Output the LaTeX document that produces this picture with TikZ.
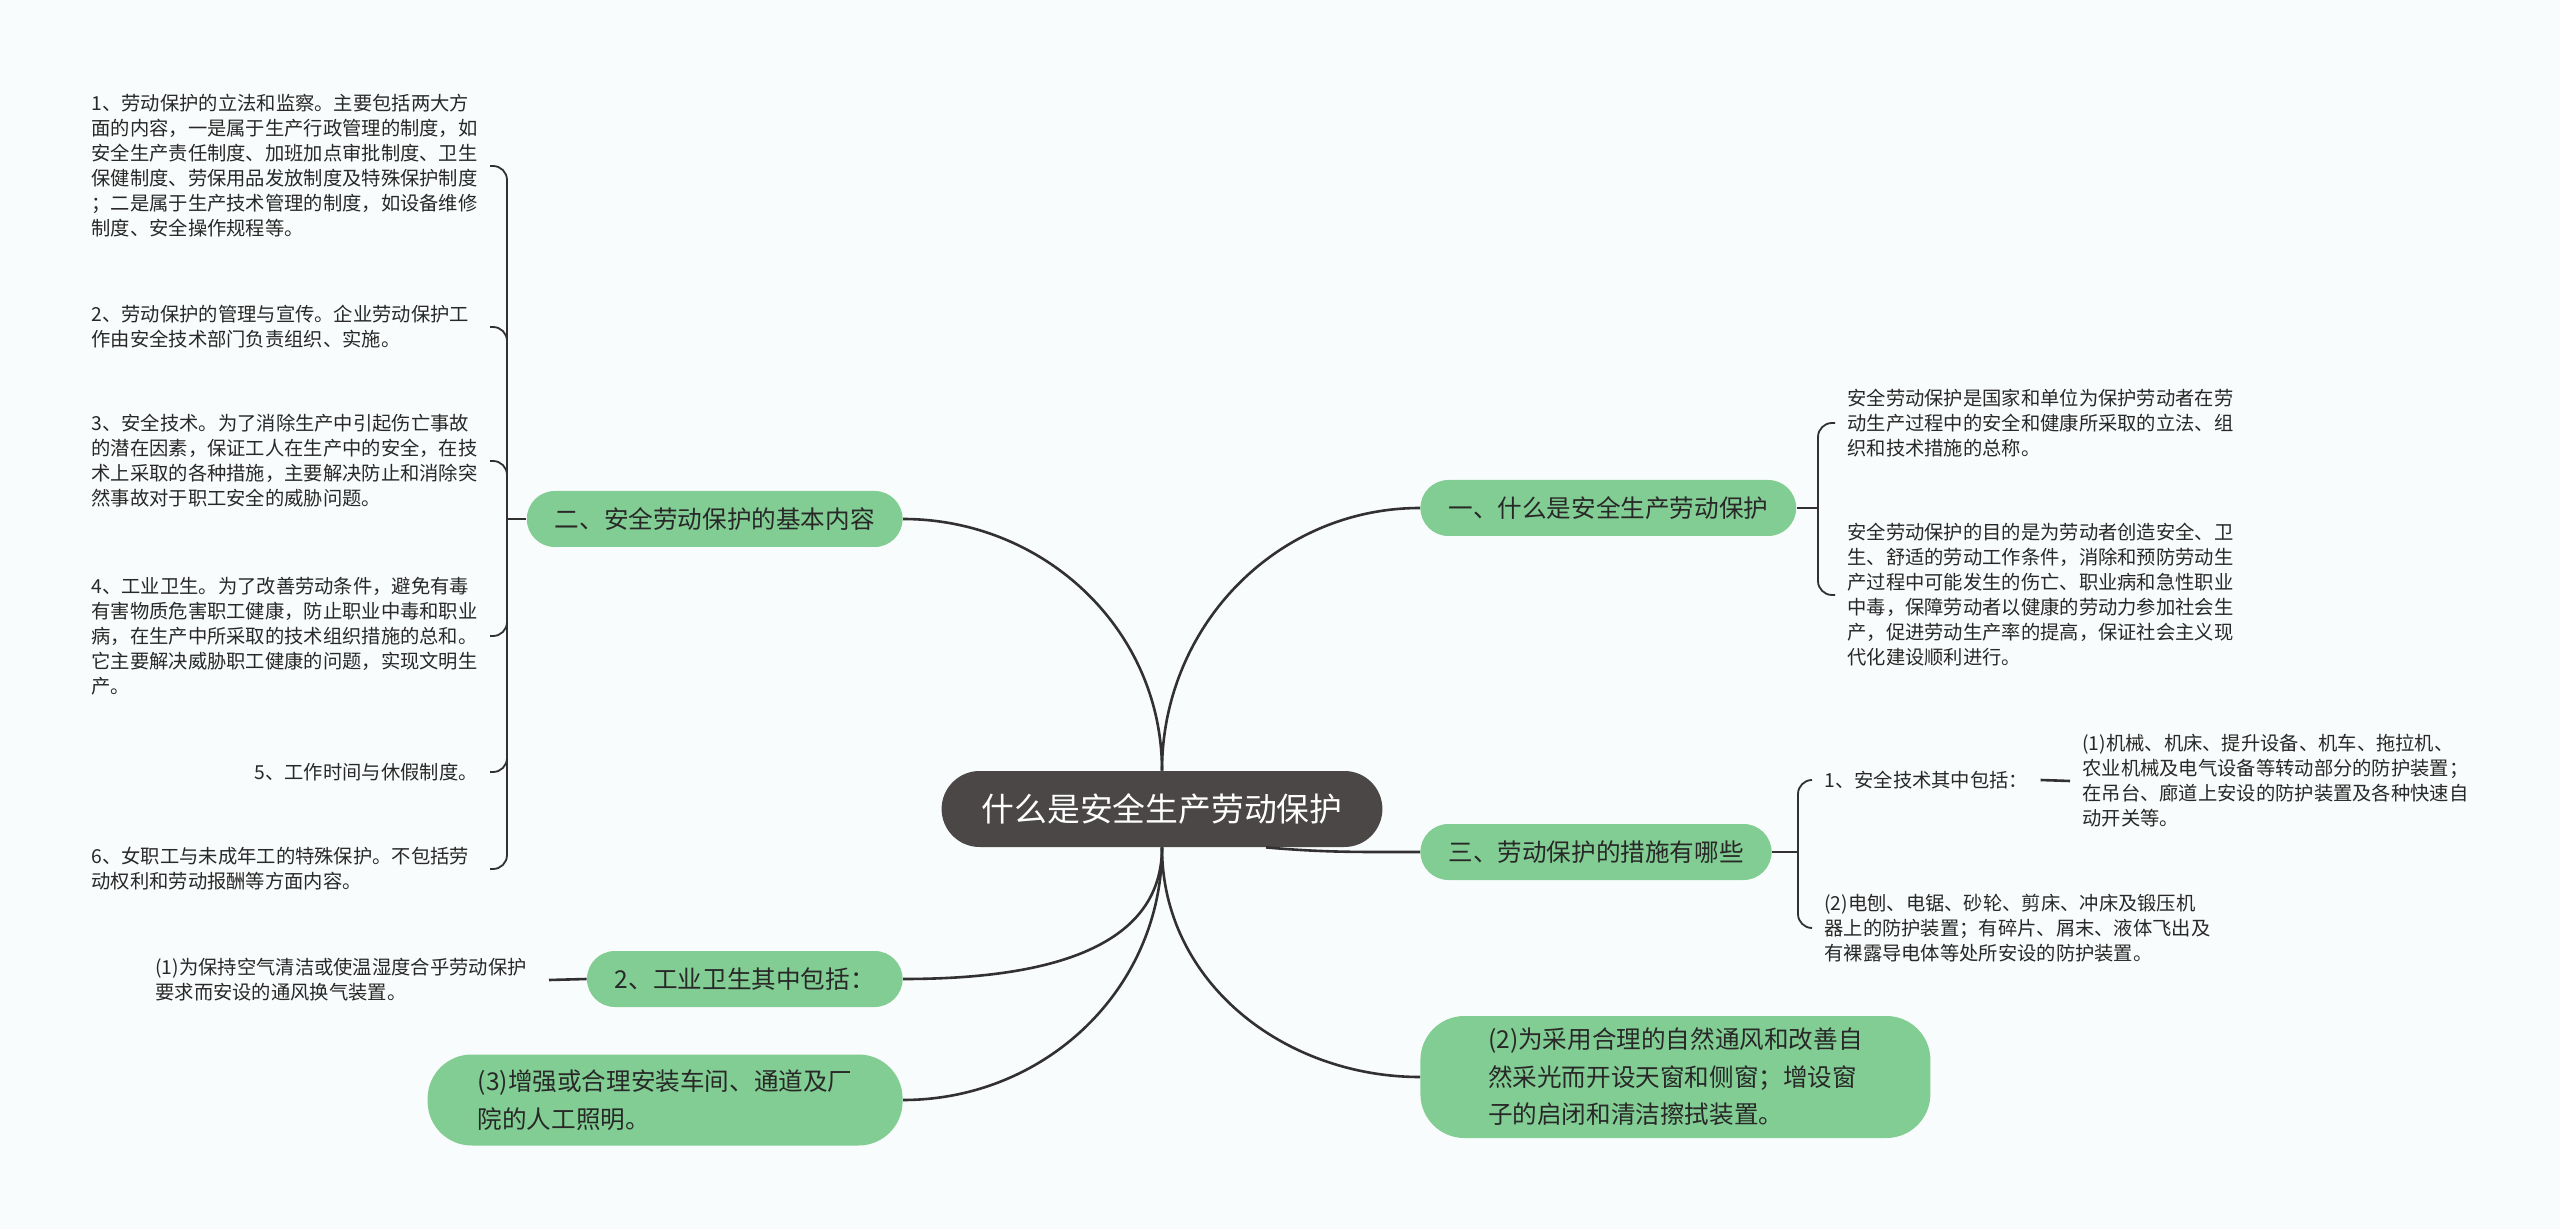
\documentclass[tikz,border=0pt]{standalone}
\usepackage{fontspec}
\setmainfont{Noto Sans CJK SC}
\usepackage{tikz}
\definecolor{rootgray}{RGB}{75,71,71}
\definecolor{topicgreen}{RGB}{130,205,147}
\definecolor{inkgray}{RGB}{40,40,40}
\definecolor{linegray}{RGB}{50,48,48}
\definecolor{paper}{RGB}{249,252,252}

\begin{document}
\begin{tikzpicture}[x=0.5pt, y=-0.5pt,
	root/.style={fill=rootgray, text=white, rounded corners=19pt, minimum height=38pt, inner xsep=20pt, font=\fontsize{16.4}{20}\selectfont},
	topic/.style={fill=topicgreen, text=inkgray, rounded corners=14pt, minimum height=28pt, inner xsep=14pt, font=\fontsize{12.3}{18.7}\selectfont},
	bigtopic/.style={topic, rounded corners=22pt, align=left},
	note/.style={text=inkgray, align=left, inner xsep=6pt, inner ysep=0pt, font=\fontsize{9.65}{12.5}\selectfont},
	widenote/.style={note, text width=193pt},
	link/.style={draw=linegray, line width=1.3pt},
	brace/.style={draw=linegray, line width=0.9pt, rounded corners=7pt}]
			\path[use as bounding box, fill=paper] (0,0) rectangle (2560,1229);
			\node[root] (root) at (1162,809) {什么是安全生产劳动保护};
			\node[topic, anchor=west] (what) at (1420,508) {一、什么是安全生产劳动保护};
			\node[topic, anchor=east] (basic) at (903,519) {二、安全劳动保护的基本内容};
			\node[topic, anchor=west] (measure) at (1420,852) {三、劳动保护的措施有哪些};
			\node[topic, anchor=east] (hygiene) at (903,979) {2、工业卫生其中包括：};
			\node[bigtopic, anchor=east, minimum width=237.5pt, minimum height=45.5pt] (light) at (903,1100) {(3)增强或合理安装车间、通道及厂\\院的人工照明。};
			\node[bigtopic, anchor=west, minimum width=255pt, minimum height=61pt] (window) at (1420,1077) {(2)为采用合理的自然通风和改善自\\然采光而开设天窗和侧窗；增设窗\\子的启闭和清洁擦拭装置。};
			\draw[link] (root.north) to[out=90, in=180] (what.west);
			\draw[link] (root.north) to[out=90, in=0] (basic.east);
			\draw[link] ([xshift=52pt]root.south) to[out=-5, in=180] (measure.west);
			\draw[link] (root.south) to[out=-90, in=0] (hygiene.east);
			\draw[link] (root.south) to[out=-90, in=0] (light.east);
			\draw[link] (root.south) to[out=-90, in=180] (window.west);
			\node[widenote, anchor=east] (b1) at (490,166) {1、劳动保护的立法和监察。主要包括两大方\\面的内容，一是属于生产行政管理的制度，如\\安全生产责任制度、加班加点审批制度、卫生\\保健制度、劳保用品发放制度及特殊保护制度\\；二是属于生产技术管理的制度，如设备维修\\制度、安全操作规程等。};
			\node[widenote, anchor=east] (b2) at (490,327) {2、劳动保护的管理与宣传。企业劳动保护工\\作由安全技术部门负责组织、实施。};
			\node[widenote, anchor=east] (b3) at (490,461) {3、安全技术。为了消除生产中引起伤亡事故\\的潜在因素，保证工人在生产中的安全，在技\\术上采取的各种措施，主要解决防止和消除突\\然事故对于职工安全的威胁问题。};
			\node[widenote, anchor=east] (b4) at (490,636) {4、工业卫生。为了改善劳动条件，避免有毒\\有害物质危害职工健康，防止职业中毒和职业\\病，在生产中所采取的技术组织措施的总和。\\它主要解决威胁职工健康的问题，实现文明生\\产。};
			\node[note, anchor=east] (b5) at (490,772) {5、工作时间与休假制度。};
			\node[widenote, anchor=east] (b6) at (490,869) {6、女职工与未成年工的特殊保护。不包括劳\\动权利和劳动报酬等方面内容。};
			\coordinate (bl) at (507,519);
			\draw[link] (basic.west) -- (bl);
			\foreach \n in {b1,b2,b3,b4,b5,b6} \draw[brace] (bl) |- (\n.east);
			\node[note, anchor=east, inner xsep=11pt] (h1) at (549,980) {(1)为保持空气清洁或使温湿度合乎劳动保护\\要求而安设的通风换气装置。};
			\draw[link] (h1.east) -- (hygiene.west);
			\node[note, anchor=west] (r1) at (1835,423) {安全劳动保护是国家和单位为保护劳动者在劳\\动生产过程中的安全和健康所采取的立法、组\\织和技术措施的总称。};
			\node[note, anchor=west] (r2) at (1835,595) {安全劳动保护的目的是为劳动者创造安全、卫\\生、舒适的劳动工作条件，消除和预防劳动生\\产过程中可能发生的伤亡、职业病和急性职业\\中毒，保障劳动者以健康的劳动力参加社会生\\产，促进劳动生产率的提高，保证社会主义现\\代化建设顺利进行。};
			\coordinate (br) at (1818,508);
			\draw[link] (what.east) -- (br);
			\foreach \n in {r1,r2} \draw[brace] (br) |- (\n.west);
			\node[note, anchor=west] (t1) at (1812,780) {1、安全技术其中包括：};
			\node[note, anchor=west] (t2) at (1812,928) {(2)电刨、电锯、砂轮、剪床、冲床及锻压机\\器上的防护装置；有碎片、屑末、液体飞出及\\有裸露导电体等处所安设的防护装置。};
			\node[note, anchor=west] (t3) at (2070,781) {(1)机械、机床、提升设备、机车、拖拉机、\\农业机械及电气设备等转动部分的防护装置；\\在吊台、廊道上安设的防护装置及各种快速自\\动开关等。};
			\coordinate (bm) at (1798,852);
			\draw[link] (measure.east) -- (bm);
			\foreach \n in {t1,t2} \draw[brace] (bm) |- (\n.west);
			\draw[link] (t1.east) -- (t3.west);
		\end{tikzpicture}
\end{document}
